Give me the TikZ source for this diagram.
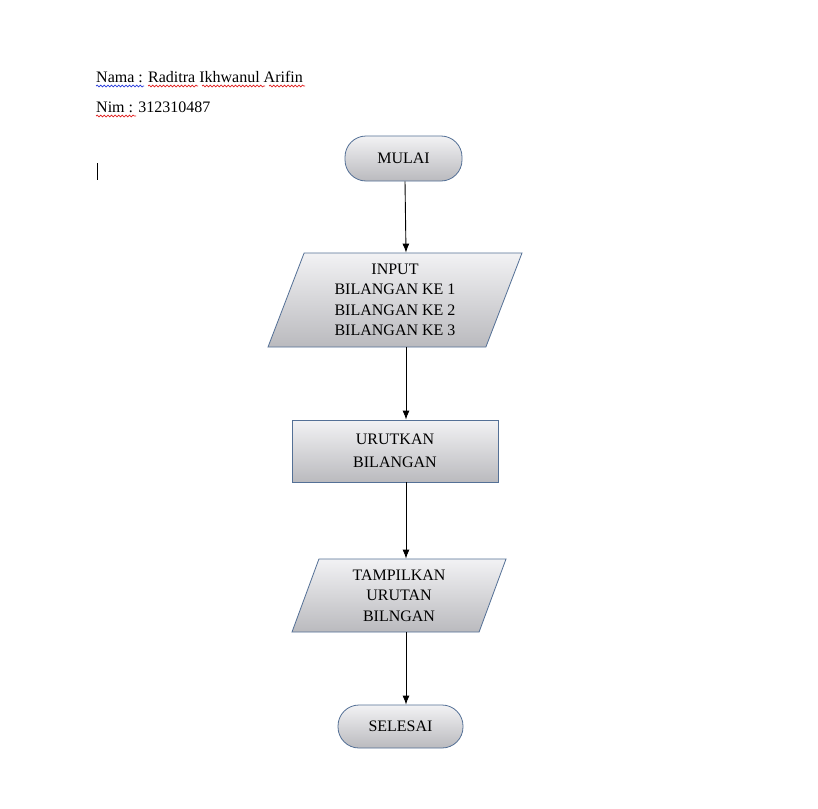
\documentclass[tikz,border=0pt]{standalone}
\usepackage{fontspec}
\setmainfont{Liberation Serif}
\usetikzlibrary{arrows,arrows.meta,shapes.geometric,decorations.pathmorphing}
\definecolor{garis}{RGB}{84,112,150}
\definecolor{isiatas}{RGB}{242,242,244}
\definecolor{isibawah}{RGB}{186,186,190}
\definecolor{ejaanmerah}{RGB}{225,30,30}
\definecolor{ejaanbiru}{RGB}{40,60,220}
\tikzset{
	teks/.style={font=\fontsize{16}{20.5}\selectfont,text=black},
	kotak/.style={teks,draw=garis,line width=0.8pt,top color=isiatas,bottom color=isibawah,align=center,inner sep=0pt},
	terminal/.style={kotak,rectangle,rounded corners=21pt},
	proses/.style={kotak,rectangle},
	data/.style={kotak,trapezium,trapezium stretches body},
	panah/.style={line width=0.9pt,-{Latex[length=9pt,width=7pt]}},
	salah/.style={line width=0.7pt,decorate,decoration={snake,amplitude=0.9pt,segment length=3.6pt}}
}
\begin{document}
\begin{tikzpicture}[x=1pt,y=-1pt]
	\useasboundingbox[fill=white](0,0) rectangle (818,808);

	\node[teks,anchor=base west,inner sep=0pt] (nama) at (96,82){Nama : Raditra Ikhwanul Arifin};
	\node[teks,anchor=base west,inner sep=0pt] (nim) at (96,112){Nim : 312310487};
	\draw[ejaanbiru,salah](96,86)--(144,86); %garis ejaan
	\draw[ejaanmerah,salah](148,86)--(198,86);
	\draw[ejaanmerah,salah](202,86)--(265,86);
	\draw[ejaanmerah,salah](269,86)--(305,86);
	\draw[ejaanmerah,salah](96,116)--(136,116);
	\draw[line width=0.8pt](97,163)--(97,180); %kursor

	\node[terminal,minimum width=117pt,minimum height=45pt] (mulai) at (403.5,158.5){MULAI};
	\node[data,minimum width=254pt,minimum height=94pt,trapezium left angle=63.4,trapezium right angle=116.6] (input) at (395,300){INPUT\\BILANGAN KE 1\\BILANGAN KE 2\\BILANGAN KE 3};
	\node[proses,minimum width=206pt,minimum height=62pt] (urut) at (395,451){URUTKAN\\[2.5pt]BILANGAN};
	\node[data,minimum width=214pt,minimum height=73pt,trapezium left angle=62.5,trapezium right angle=117.5] (tampil) at (399,595.5){TAMPILKAN\\URUTAN\\BILNGAN};
	\node[terminal,minimum width=125pt,minimum height=43pt] (selesai) at (400.5,726.5){SELESAI};

	\coordinate (jalur) at (406,0);
	\draw[panah](mulai.south -| 405,0)--(input.north -| jalur);
	\draw[panah](input.south -| jalur)--(urut.north -| jalur);
	\draw[panah](urut.south -| jalur)--(tampil.north -| jalur);
	\draw[panah](tampil.south -| jalur)--(selesai.north -| jalur);

\end{tikzpicture}
\end{document}
